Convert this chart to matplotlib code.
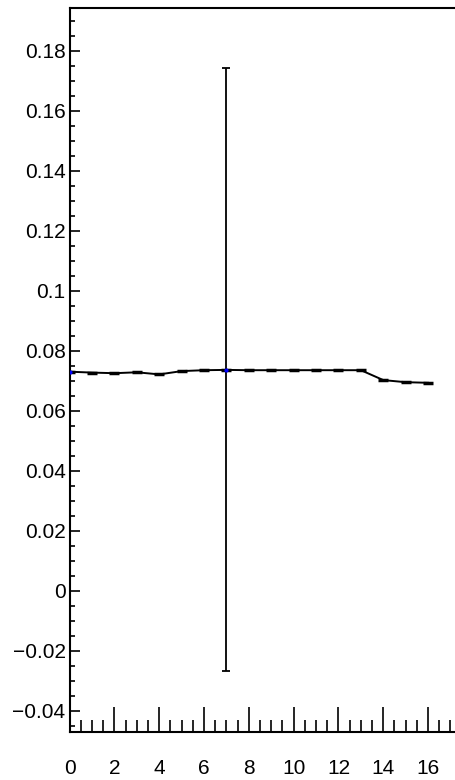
import matplotlib.pyplot as plt
import numpy as np
from matplotlib.ticker import MultipleLocator, FuncFormatter

plt.rcParams['font.family'] = ['Liberation Sans', 'DejaVu Sans']

# series
x = [0, 1, 2, 3, 4, 5, 6, 7, 8, 9, 10, 11, 12, 13, 14, 15, 16]
y = [0.0730, 0.0727, 0.0725, 0.0728, 0.0721, 0.0732, 0.0735, 0.0736, 0.0735,
     0.0735, 0.0735, 0.0735, 0.0735, 0.0735, 0.0702, 0.0695, 0.0693]
err_x = [7]
err_y = [0.0736]
err_size = [0.1005]
blue_x = [0, 7]
blue_y = [0.0730, 0.0736]

fig = plt.figure(figsize=(4.56, 7.80), dpi=100)
W, H = 456, 780
ax = fig.add_axes([69.7 / W, (H - 731.7) / H, 392 / W, (731.7 - 8) / H])

ax.plot(x, y, color="black", lw=1.4, marker="_", ms=7, mew=2.5, zorder=3)
ax.errorbar(err_x, err_y, yerr=err_size, fmt="none", ecolor="black",
            elinewidth=1.3, capsize=3, capthick=1.3, zorder=2)
ax.plot(blue_x, blue_y, "o", color="blue", ms=2, zorder=4)

ax.set_xlim(0, 17.5)
ax.set_ylim(-0.047, 0.19423)

for s in ["left", "bottom", "top"]:
    ax.spines[s].set_linewidth(1.5)
ax.spines["right"].set_visible(False)

ax.xaxis.set_major_locator(MultipleLocator(2))
ax.xaxis.set_minor_locator(MultipleLocator(0.5))
ax.yaxis.set_major_locator(MultipleLocator(0.02))
ax.yaxis.set_minor_locator(MultipleLocator(0.005))

def yfmt(v, pos):
    s = "%g" % round(v, 4)
    if s == "-0":
        s = "0"
    return s.replace("-", "\u2212")

ax.yaxis.set_major_formatter(FuncFormatter(yfmt))

ax.tick_params(axis="x", which="major", direction="in", length=18, width=1.2,
               pad=19.5, labelsize=15, top=False)
ax.tick_params(axis="x", which="minor", direction="in", length=9, width=1.2, top=False)
ax.tick_params(axis="y", which="major", direction="in", length=7, width=1.2,
               pad=3, labelsize=15, right=False)
ax.tick_params(axis="y", which="minor", direction="in", length=3.5, width=1.2, right=False)

fig.savefig("out.png", dpi=100)
